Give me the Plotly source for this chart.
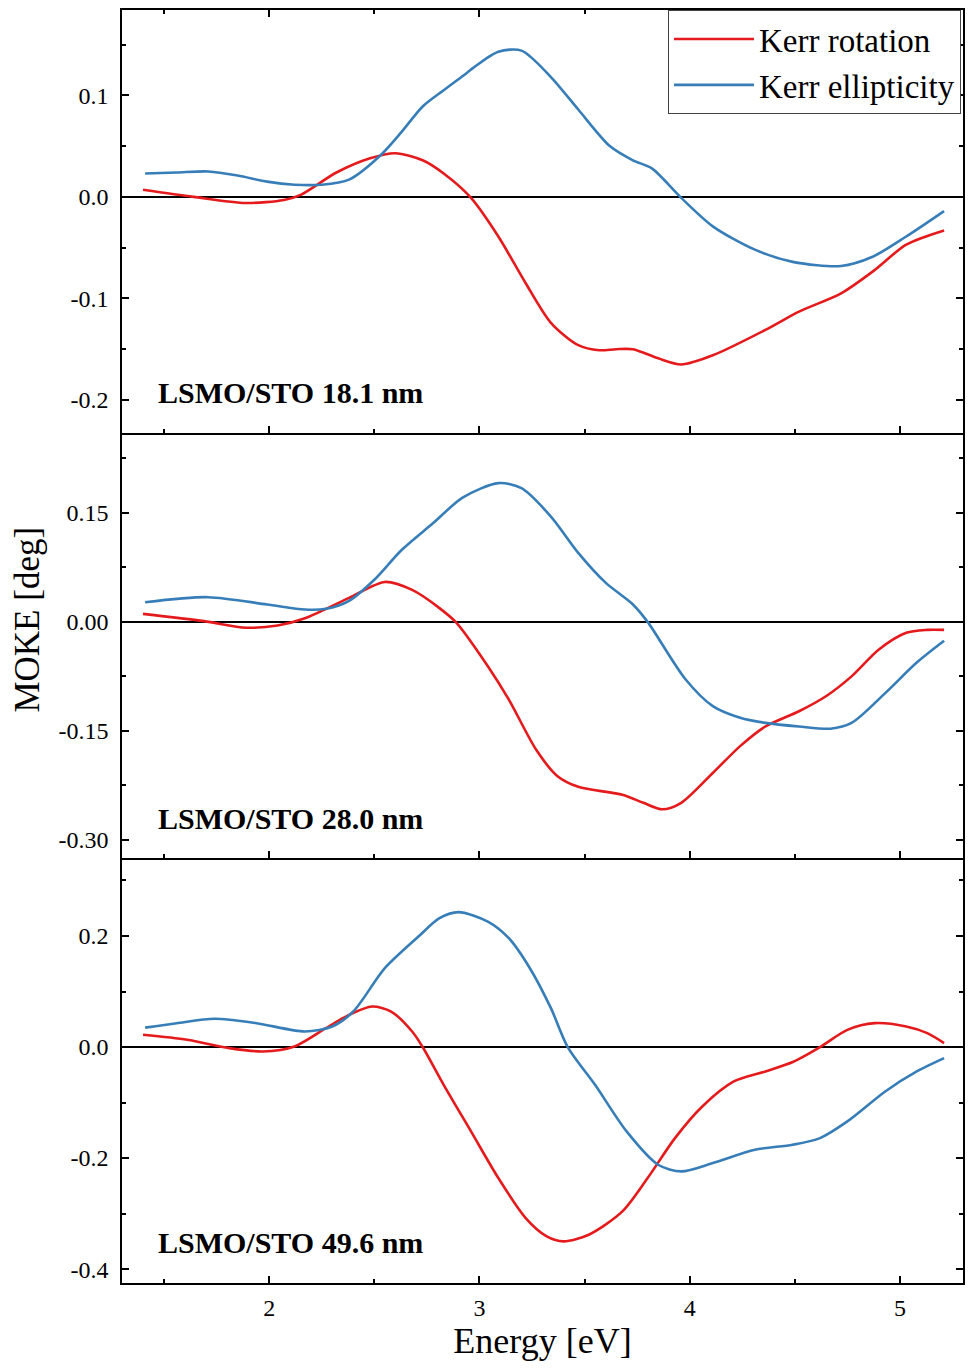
import plotly.graph_objects as go

# ---------------- data ----------------
# Panel 1: LSMO/STO 18.1 nm
e1_rot = [1.40, 1.64, 1.89, 2.07, 2.15, 2.32, 2.48, 2.60, 2.73, 2.83, 2.96, 3.09, 3.22, 3.34, 3.47, 3.57, 3.65, 3.73, 3.85, 3.96, 4.11, 4.36, 4.52, 4.72, 4.88, 5.03, 5.21]
rot1 = [0.007, 0.000, -0.006, -0.003, 0.002, 0.024, 0.038, 0.043, 0.036, 0.023, -0.001, -0.039, -0.085, -0.124, -0.146, -0.151, -0.150, -0.150, -0.159, -0.165, -0.156, -0.131, -0.113, -0.095, -0.072, -0.047, -0.033]
e1_ell = [1.41, 1.56, 1.71, 1.85, 1.99, 2.12, 2.25, 2.38, 2.53, 2.63, 2.73, 2.83, 2.94, 2.97, 3.09, 3.20, 3.34, 3.47, 3.62, 3.73, 3.82, 3.96, 4.11, 4.31, 4.49, 4.72, 4.87, 5.03, 5.21]
ell1 = [0.023, 0.024, 0.025, 0.021, 0.015, 0.012, 0.012, 0.017, 0.041, 0.064, 0.089, 0.105, 0.122, 0.127, 0.143, 0.144, 0.118, 0.086, 0.050, 0.036, 0.028, -0.001, -0.029, -0.052, -0.064, -0.068, -0.059, -0.039, -0.014]

# Panel 2: LSMO/STO 28.0 nm
e2_rot = [1.40, 1.69, 1.89, 2.04, 2.17, 2.38, 2.55, 2.68, 2.81, 2.89, 3.04, 3.14, 3.27, 3.37, 3.47, 3.68, 3.78, 3.87, 3.96, 4.11, 4.24, 4.36, 4.52, 4.65, 4.77, 4.90, 5.03, 5.13, 5.21]
rot2 = [0.011, 0.001, -0.008, -0.005, 0.005, 0.033, 0.055, 0.044, 0.019, -0.001, -0.061, -0.107, -0.176, -0.212, -0.227, -0.238, -0.249, -0.258, -0.249, -0.208, -0.171, -0.144, -0.123, -0.102, -0.075, -0.038, -0.015, -0.011, -0.011]
e2_ell = [1.41, 1.71, 1.99, 2.17, 2.27, 2.38, 2.50, 2.63, 2.78, 2.92, 3.09, 3.20, 3.34, 3.47, 3.60, 3.73, 3.80, 3.98, 4.11, 4.24, 4.36, 4.52, 4.67, 4.77, 4.93, 5.08, 5.21]
ell2 = [0.027, 0.034, 0.024, 0.017, 0.018, 0.029, 0.058, 0.099, 0.136, 0.171, 0.191, 0.184, 0.145, 0.095, 0.054, 0.024, 0.000, -0.079, -0.116, -0.132, -0.139, -0.144, -0.147, -0.139, -0.098, -0.056, -0.026]

# Panel 3: LSMO/STO 49.6 nm
e3_rot = [1.40, 1.61, 1.81, 1.97, 2.12, 2.27, 2.38, 2.49, 2.58, 2.68, 2.73, 2.83, 2.96, 3.09, 3.22, 3.32, 3.40, 3.52, 3.68, 3.80, 3.93, 4.06, 4.21, 4.36, 4.49, 4.62, 4.75, 4.88, 5.03, 5.13, 5.21]
rot3 = [0.022, 0.013, -0.002, -0.008, 0.001, 0.034, 0.058, 0.073, 0.064, 0.028, 0.000, -0.068, -0.152, -0.236, -0.308, -0.341, -0.350, -0.338, -0.296, -0.236, -0.164, -0.107, -0.062, -0.044, -0.027, 0.000, 0.031, 0.043, 0.037, 0.025, 0.007]
e3_ell = [1.41, 1.56, 1.74, 1.94, 2.17, 2.30, 2.40, 2.55, 2.71, 2.81, 2.90, 3.04, 3.14, 3.24, 3.34, 3.42, 3.55, 3.70, 3.85, 3.96, 4.11, 4.31, 4.49, 4.62, 4.75, 4.93, 5.08, 5.21]
ell3 = [0.035, 0.043, 0.051, 0.043, 0.028, 0.037, 0.064, 0.142, 0.199, 0.232, 0.243, 0.226, 0.196, 0.142, 0.070, 0.000, -0.068, -0.152, -0.212, -0.224, -0.209, -0.185, -0.176, -0.164, -0.134, -0.080, -0.044, -0.020]

panel_labels = ["LSMO/STO 18.1 nm", "LSMO/STO 28.0 nm", "LSMO/STO 49.6 nm"]
series_names = ["Kerr rotation", "Kerr ellipticity"]
x_ticks = [2, 3, 4, 5]
x_ticklabels = ["2", "3", "4", "5"]
y_ticks = [[0.1, 0.0, -0.1, -0.2], [0.15, 0.0, -0.15, -0.30], [0.2, 0.0, -0.2, -0.4]]
y_ticklabels = [["0.1", "0.0", "-0.1", "-0.2"], ["0.15", "0.00", "-0.15", "-0.30"], ["0.2", "0.0", "-0.2", "-0.4"]]
y_ranges = [[-0.2325, 0.184], [-0.325, 0.26], [-0.425, 0.3405]]
y_minor = [0.05, 0.075, 0.1]

RED = "#e41a1c"
BLUE = "#377eb8"
FONT = "Liberation Serif"

fig = go.Figure()
data = [(e1_rot, rot1, e1_ell, ell1), (e2_rot, rot2, e2_ell, ell2), (e3_rot, rot3, e3_ell, ell3)]
for i, (er, r, ee, el) in enumerate(data):
    ax = "" if i == 0 else str(i + 1)
    fig.add_trace(go.Scatter(x=er, y=r, mode="lines", line=dict(color=RED, width=2.6, shape="spline", smoothing=0.8),
                             name=series_names[0], showlegend=(i == 0), xaxis="x" + ax, yaxis="y" + ax))
    fig.add_trace(go.Scatter(x=ee, y=el, mode="lines", line=dict(color=BLUE, width=2.6, shape="spline", smoothing=0.8),
                             name=series_names[1], showlegend=(i == 0), xaxis="x" + ax, yaxis="y" + ax))

H = 1273.0
domains = [[850 / H, 1.0], [425 / H, 850 / H], [0.0, 425 / H]]

layout = dict(
    width=969, height=1369,
    margin=dict(l=122, r=4, t=10, b=86),
    plot_bgcolor="white", paper_bgcolor="white",
    font=dict(family=FONT, color="black", size=24),
    legend=dict(x=0.9976, y=1.0, xanchor="right", yanchor="top",
                bordercolor="#444", borderwidth=1, bgcolor="white",
                font=dict(family=FONT, size=33), itemwidth=80,
                tracegroupgap=0),
    showlegend=True,
)

for i in range(3):
    ax = "" if i == 0 else str(i + 1)
    xa = dict(range=[1.3, 5.3], domain=[0, 1], anchor="y" + ax,
              showline=True, linecolor="black", linewidth=1.5,
              mirror="ticks" if i == 0 else False,
              ticks="inside", ticklen=7, tickwidth=1.5, tickcolor="black",
              tickvals=x_ticks, ticktext=x_ticklabels,
              showticklabels=(i == 2), showgrid=False, zeroline=False,
              minor=dict(ticks="inside", ticklen=4, tickwidth=1.5, tickcolor="black",
                         tickmode="linear", tick0=1.5, dtick=1.0, showgrid=False),
              tickfont=dict(size=24, family=FONT), ticklabelstandoff=2)
    if i > 0:
        xa["matches"] = "x"
    if i == 2:
        xa["title"] = dict(text="Energy [eV]", font=dict(size=36, family=FONT), standoff=8)
    ya = dict(range=y_ranges[i], domain=domains[i], anchor="x" + ax,
              showline=True, linecolor="black", linewidth=1.5, mirror="ticks",
              ticks="inside", ticklen=7, tickwidth=1.5, tickcolor="black",
              tickvals=y_ticks[i], ticktext=y_ticklabels[i],
              showgrid=False, zeroline=True, zerolinecolor="black", zerolinewidth=1.5,
              minor=dict(ticks="inside", ticklen=4, tickwidth=1.5, tickcolor="black",
                         tickmode="linear", tick0=y_minor[i], dtick=2 * y_minor[i], showgrid=False),
              tickfont=dict(size=24, family=FONT), ticklabelstandoff=7)
    layout["xaxis" + ax] = xa
    layout["yaxis" + ax] = ya

annotations = []
label_y = [0.0946, 0.094, 0.096]
for i in range(3):
    ax = "" if i == 0 else str(i + 1)
    annotations.append(dict(text="<b>" + panel_labels[i] + "</b>", xref="x" + ax + " domain", yref="y" + ax + " domain",
                            x=0.040, y=label_y[i], xanchor="left", yanchor="middle", showarrow=False,
                            font=dict(family=FONT, size=30, color="black")))
annotations.append(dict(text="MOKE [deg]", xref="paper", yref="paper", x=-0.112, y=0.521,
                        xanchor="center", yanchor="middle", textangle=-90, showarrow=False,
                        font=dict(family=FONT, size=35, color="black")))
layout["annotations"] = annotations

fig.update_layout(**layout)
fig.write_html("out.html")
